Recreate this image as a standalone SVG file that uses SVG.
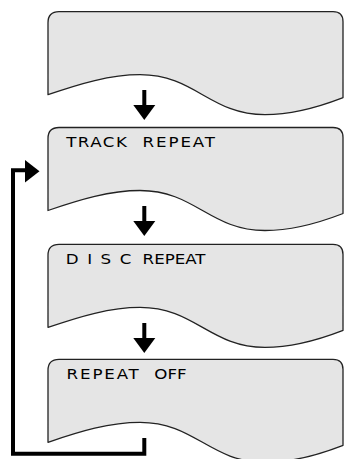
<svg xmlns="http://www.w3.org/2000/svg" width="344" height="459" viewBox="0 0 344 459">
<style>
.box{fill:#e5e5e5;stroke:#222;stroke-width:1.3;stroke-linejoin:round}
.lbl{font-family:"DejaVu Sans",sans-serif;font-size:14.5px;fill:#000}
.wire{fill:none;stroke:#000;stroke-width:4}
.head{fill:#000}
</style>
<defs>
<path id="shape" d="M48,11 Q48,0 59,0 H333 Q343,0 343,10 V86 C330,91 300,103 265,103 C210,103 195,63 140,63 C110,63 80,72 48,83 Z"/>
</defs>
<g id="node1" transform="translate(0,11.7)">
<use href="#shape" class="box"/>
</g>
<g id="node2" transform="translate(0,127.5)">
<use href="#shape" class="box"/>
<text class="lbl" transform="translate(66.2,19.4) scale(1.15,1)" style="letter-spacing:1.3px">TRACK</text>
<text class="lbl" transform="translate(142.6,19.4) scale(1.15,1)" style="letter-spacing:1.65px">REPEAT</text>
</g>
<g id="node3" transform="translate(0,244.4)">
<use href="#shape" class="box"/>
<text class="lbl" transform="translate(65.8,19.4) scale(1.15,1)" style="letter-spacing:7.4px">DISC</text>
<text class="lbl" transform="translate(142.6,19.4) scale(1.15,1)">REPEAT</text>
</g>
<g id="node4" transform="translate(0,359.3)">
<use href="#shape" class="box"/>
<text class="lbl" transform="translate(66.6,19.4) scale(1.15,1)" style="letter-spacing:1.6px">REPEAT</text>
<text class="lbl" transform="translate(154.3,19.4) scale(1.15,1)">OFF</text>
</g>
<g id="connectors">
<line class="wire" x1="144.3" y1="90" x2="144.3" y2="106"/>
<polygon class="head" points="133.3,105 155.3,105 144.3,120"/>
<line class="wire" x1="144.3" y1="206" x2="144.3" y2="222"/>
<polygon class="head" points="133.3,221 155.3,221 144.3,236"/>
<line class="wire" x1="144.3" y1="323" x2="144.3" y2="339"/>
<polygon class="head" points="133.3,338 155.3,338 144.3,353"/>
<path class="wire" d="M144.3,438 V453.8 H13 V170.3 H27" stroke-linejoin="miter"/>
<polygon class="head" points="25,160 25,182.6 39.5,171.3"/>
</g>
</svg>
